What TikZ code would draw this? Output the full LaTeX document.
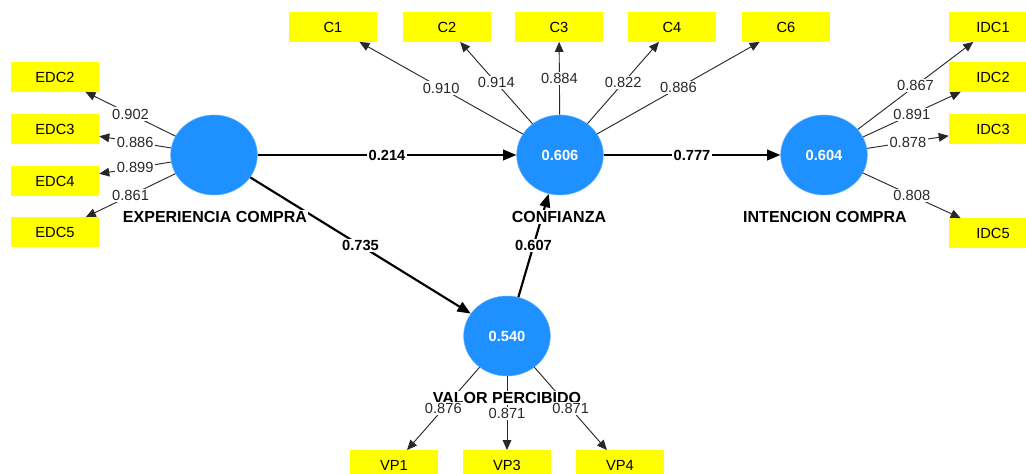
\documentclass[tikz,border=0pt]{standalone}
\usepackage{fontspec}
\setmainfont{Liberation Sans}
\usepackage{tikz}
\usetikzlibrary{shapes.geometric,arrows.meta}

\definecolor{LVBlue}{RGB}{30,144,255}
\definecolor{MVYellow}{RGB}{255,255,0}
\definecolor{LoadGray}{RGB}{40,40,40}

\begin{document}
\begin{tikzpicture}[x=0.75pt, y=-0.75pt]
			\tikzstyle{Latent}	= [ellipse, fill=LVBlue, draw=LVBlue!70!white, minimum width=65pt, minimum height=60pt, inner sep=0pt, text=white, font=\fontsize{11}{12}\selectfont\bfseries]
			\tikzstyle{Item}	= [rectangle, fill=MVYellow, minimum width=66pt, minimum height=22pt, inner sep=0pt, font=\fontsize{11}{12}\selectfont]
			\tikzstyle{Struct}	= [line width=1.6pt, -{Triangle[length=10pt, width=8pt]}]
			\tikzstyle{Load}	= [line width=0.7pt, LoadGray, -{Triangle[length=7.5pt, width=6.5pt]}]
			\tikzstyle{Beta}	= [fill=white, inner sep=1pt, font=\fontsize{11}{12}\selectfont\bfseries]
			\tikzstyle{Lambda}	= [fill=white, inner sep=1pt, text=LoadGray, font=\fontsize{11}{12}\selectfont]
			\tikzstyle{Name}	= [fill=white, inner sep=1pt, font=\fontsize{12}{13}\selectfont\bfseries]

			\useasboundingbox (0,0) rectangle (1026,474);

			% constructs
			\node (exp) at (214, 155) [Latent] {};
			\node (conf) at (560, 155) [Latent] {0.606};
			\node (inte) at (824, 155) [Latent] {0.604};
			\node (vp) at (507, 336) [Latent] {0.540};

			% indicators
			\node (edc2) at (55, 77) [Item] {EDC2};
			\node (edc3) at (55, 129) [Item] {EDC3};
			\node (edc4) at (55, 181) [Item] {EDC4};
			\node (edc5) at (55, 232) [Item] {EDC5};
			\node (c1) at (333, 27) [Item] {C1};
			\node (c2) at (447, 27) [Item] {C2};
			\node (c3) at (559, 27) [Item] {C3};
			\node (c4) at (672, 27) [Item] {C4};
			\node (c6) at (786, 27) [Item] {C6};
			\node (idc1) at (993, 27) [Item] {IDC1};
			\node (idc2) at (993, 77) [Item] {IDC2};
			\node (idc3) at (993, 129) [Item] {IDC3};
			\node (idc5) at (993, 233) [Item] {IDC5};
			\node (vp1) at (394, 465) [Item] {VP1};
			\node (vp3) at (507, 465) [Item] {VP3};
			\node (vp4) at (620, 465) [Item] {VP4};

			% inner model
			\draw [Struct] (exp) to node[Beta] {0.214} (conf);
			\draw [Struct] (conf) to node[Beta] {0.777} (inte);
			\draw [Struct] (exp) to node[Beta] {0.735} (vp);
			\draw [Struct] (vp) to node[Beta] {0.607} (conf);

			% outer model
			\draw [Load] (exp) to node[Lambda] {0.902} (edc2);
			\draw [Load] (exp) to node[Lambda] {0.886} (edc3);
			\draw [Load] (exp) to node[Lambda] {0.899} (edc4);
			\draw [Load] (exp) to node[Lambda] {0.861} (edc5);
			\draw [Load] (conf) to node[Lambda] {0.910} (c1);
			\draw [Load] (conf) to node[Lambda] {0.914} (c2);
			\draw [Load] (conf) to node[Lambda] {0.884} (c3);
			\draw [Load] (conf) to node[Lambda] {0.822} (c4);
			\draw [Load] (conf) to node[Lambda] {0.886} (c6);
			\draw [Load] (inte) to node[Lambda] {0.867} (idc1);
			\draw [Load] (inte) to node[Lambda] {0.891} (idc2);
			\draw [Load] (inte) to node[Lambda] {0.878} (idc3);
			\draw [Load] (inte) to node[Lambda] {0.808} (idc5);
			\draw [Load] (vp) to (vp1);
			\draw [Load] (vp) to (vp3);
			\draw [Load] (vp) to (vp4);

			% construct names
			\node (nexp) at (215, 217) [Name] {EXPERIENCIA COMPRA};
			\node (nconf) at (559, 217) [Name] {CONFIANZA};
			\node (ninte) at (825, 217) [Name] {INTENCION COMPRA};
			\node (nvp) at (507, 398) [Name] {VALOR PERCIBIDO};

			% loadings over the name
			\path (vp) to node[Lambda] {0.876} (vp1);
			\path (vp) to node[Lambda] {0.871} (vp3);
			\path (vp) to node[Lambda] {0.871} (vp4);
		\end{tikzpicture}
\end{document}
